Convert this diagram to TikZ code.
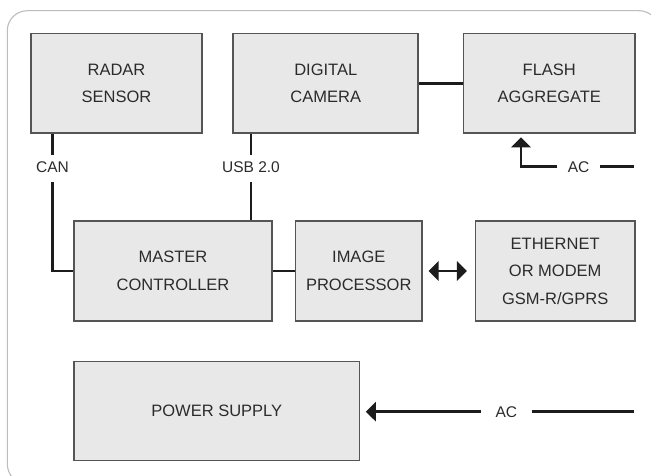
\documentclass[tikz,border=0pt]{standalone}
\usepackage{fontspec}
\setmainfont{Liberation Sans}
\usetikzlibrary{arrows.meta}
\definecolor{boxfill}{HTML}{E8E8E8}
\definecolor{boxline}{HTML}{555555}
\definecolor{txt}{HTML}{2B2B2B}
\definecolor{framec}{HTML}{BDBDBD}
\definecolor{linec}{HTML}{1C1C1C}
\begin{document}
\begin{tikzpicture}[x=1pt,y=-1pt,
  box/.style={draw=boxline, line width=1.6pt, fill=boxfill, text=txt, align=center,
    font=\fontsize{16.5}{27.5}\selectfont, inner sep=0pt},
  conn/.style={line width=2.8pt, draw=linec},
  arr/.style={conn, -{Triangle[width=19pt,length=10pt]}},
  arrtwo/.style={conn, {Triangle[width=19pt,length=10pt]}-{Triangle[width=19pt,length=10pt]}},
  lab/.style={text=txt, font=\fontsize{15.5}{18}\selectfont, text height=11pt, text depth=3.6pt, inner ysep=6pt, inner xsep=2pt, anchor=base},
  aclab/.style={text=txt, font=\fontsize{15.5}{18}\selectfont, text height=11pt, text depth=0pt, inner ysep=2pt, anchor=base}
]
\clip (0,0) rectangle (651,476);
\fill[white] (0,0) rectangle (651,476);
\draw[framec, line width=1.1pt, rounded corners=20pt] (7.3,10.7) rectangle (659,484);

% boxes
\node[box, minimum width=171pt, minimum height=99.6pt] (radar) at (116.5,83.5) {RADAR\\SENSOR};
\node[box, minimum width=185pt, minimum height=99.6pt] (camera) at (325.75,83.5) {DIGITAL\\CAMERA};
\node[box, minimum width=171.3pt, minimum height=99.6pt] (flash) at (549.3,83.5) {FLASH\\AGGREGATE};
\node[box, minimum width=198pt, minimum height=100pt] (master) at (173,271) {MASTER\\CONTROLLER};
\node[box, minimum width=126.5pt, minimum height=100pt] (ip) at (358.75,271) {IMAGE\\PROCESSOR};
\node[box, minimum width=159.7pt, minimum height=100pt] (eth) at (555.2,271) {ETHERNET\\OR MODEM\\GSM-R/GPRS};
\node[box, minimum width=285.5pt, minimum height=99pt] (power) at (216.75,410.8) {POWER SUPPLY};

% labels
\node[lab] (can) at (52.5,172.7) {CAN};
\node[lab] (usb) at (251,172.7) {USB 2.0};
\node[aclab, inner xsep=10.3pt] (acf) at (578.6,172.2) {AC};
\node[aclab, inner xsep=14.3pt] (acp) at (506.3,417.2) {AC};

\coordinate (flin) at (521,137.3);
\coordinate (acfend) at (633.7,166.7);
\coordinate (acpend) at (634.3,411.7);

% connectors
\draw[conn] (radar.south -| can) -- (can.north);
\draw[conn] (can.south) |- (master.west);
\draw[conn] (camera.south -| usb) -- (usb.north);
\draw[conn] (usb.south) -- (master.north -| usb);
\draw[conn] (camera.east) -- (flash.west);
\draw[conn] (master.east) -- (ip.east -| ip.west);
\draw[arrtwo, shorten <=5.7pt, shorten >=7.6pt] (ip.east) -- (eth.west);
\draw[arr] (acf.west) -| (flin);
\draw[conn] (acf.east) -- (acfend |- acf.east);
\draw[arr, shorten >=5.5pt] (acp.west) -- (power.east |- acp.west);
\draw[conn] (acp.east) -- (acpend |- acp.east);
\end{tikzpicture}
\end{document}
